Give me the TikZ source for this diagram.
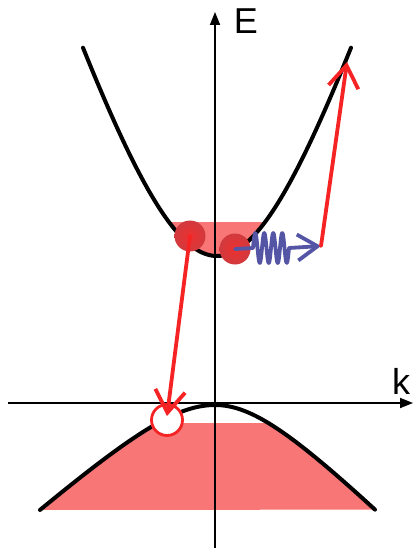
\documentclass[tikz,border=0pt]{standalone}
\usepackage{fontspec}
\setmainfont{Liberation Sans}
\usetikzlibrary{arrows.meta,calc}
\definecolor{bandfill}{RGB}{248,118,118}
\definecolor{arrred}{RGB}{245,35,35}
\definecolor{phonon}{RGB}{85,85,165}
\definecolor{ballin}{RGB}{238,48,48}
\definecolor{ballout}{RGB}{208,58,62}
\begin{document}
\begin{tikzpicture}[x=1pt,y=-1pt,
  axis/.style={line width=1.8pt,-{Triangle[length=13pt,width=10pt]}},
  band/.style={line width=4pt,line cap=round,line join=round},
  ball/.style={circle,minimum size=31pt,inner sep=0pt,inner color=ballin,outer color=ballout},
  hole/.style={circle,minimum size=31pt,inner sep=0pt,draw=arrred,line width=2.8pt,fill=white},
  redarrow/.style={draw=arrred,line width=3.8pt,line cap=round,line join=round,-{Straight Barb[length=22pt,width=30pt,line width=3.8pt]}},
  phonarrow/.style={draw=phonon,line width=3.8pt,line cap=round,line join=round,-{Straight Barb[length=20pt,width=26pt,line width=3.8pt]}},
  lbl/.style={font=\fontsize{36}{40}\selectfont,inner sep=0pt}]
\useasboundingbox (0,0) rectangle (413,548);
% band fills
\begin{scope}
  \clip plot[domain=83:351,samples=120] (\x,{256-310*(sqrt(1+((\x-217)/100)^2)-1)}) -- cycle;
  \fill[bandfill] (0,222) rectangle (413,270);
\end{scope}
\begin{scope}
  \clip plot[domain=40:215,samples=80] (\x,{405+62*(sqrt(1+((\x-215)/70)^2)-1)})
     -- plot[domain=215:375,samples=80] (\x,{405+70*(sqrt(1+((\x-215)/70)^2)-1)}) -- cycle;
  \fill[bandfill] (0,423) rectangle (413,513);
\end{scope}
% axes
\coordinate (kstart) at (8,403);
\coordinate (kend) at (413,403);
\coordinate (estart) at (215,548);
\coordinate (eend) at (215,12);
\draw[axis] (kstart) -- (kend);
\draw[axis] (estart) -- (eend);
\node[lbl] (E) at (246,21) {E};
\node[lbl] (k) at (401,381) {k};
% bands
\draw[band] plot[domain=83:351,samples=120] (\x,{256-310*(sqrt(1+((\x-217)/100)^2)-1)});
\draw[band] plot[domain=40:215,samples=80] (\x,{405+62*(sqrt(1+((\x-215)/70)^2)-1)})
     -- plot[domain=215:375,samples=80] (\x,{405+70*(sqrt(1+((\x-215)/70)^2)-1)});
% particles
\node[hole] (h) at (167,420) {};
\node[ball] (e1) at (190,236) {};
\node[ball] (e2) at (235,249) {};
\coordinate (htip) at (167,416);
\coordinate (ptip) at (321,246);
\coordinate (ctip) at (347,62);
% phonon
\draw[phonarrow] (e2.center) -- (253,248) -- plot[domain=0:36,samples=90,smooth] ({253+\x},{248-15*sin(40*\x)}) -- (ptip);
% transitions
\draw[redarrow] (e1.center) -- (htip);
\draw[redarrow] (ptip) -- (ctip);
\end{tikzpicture}
\end{document}
